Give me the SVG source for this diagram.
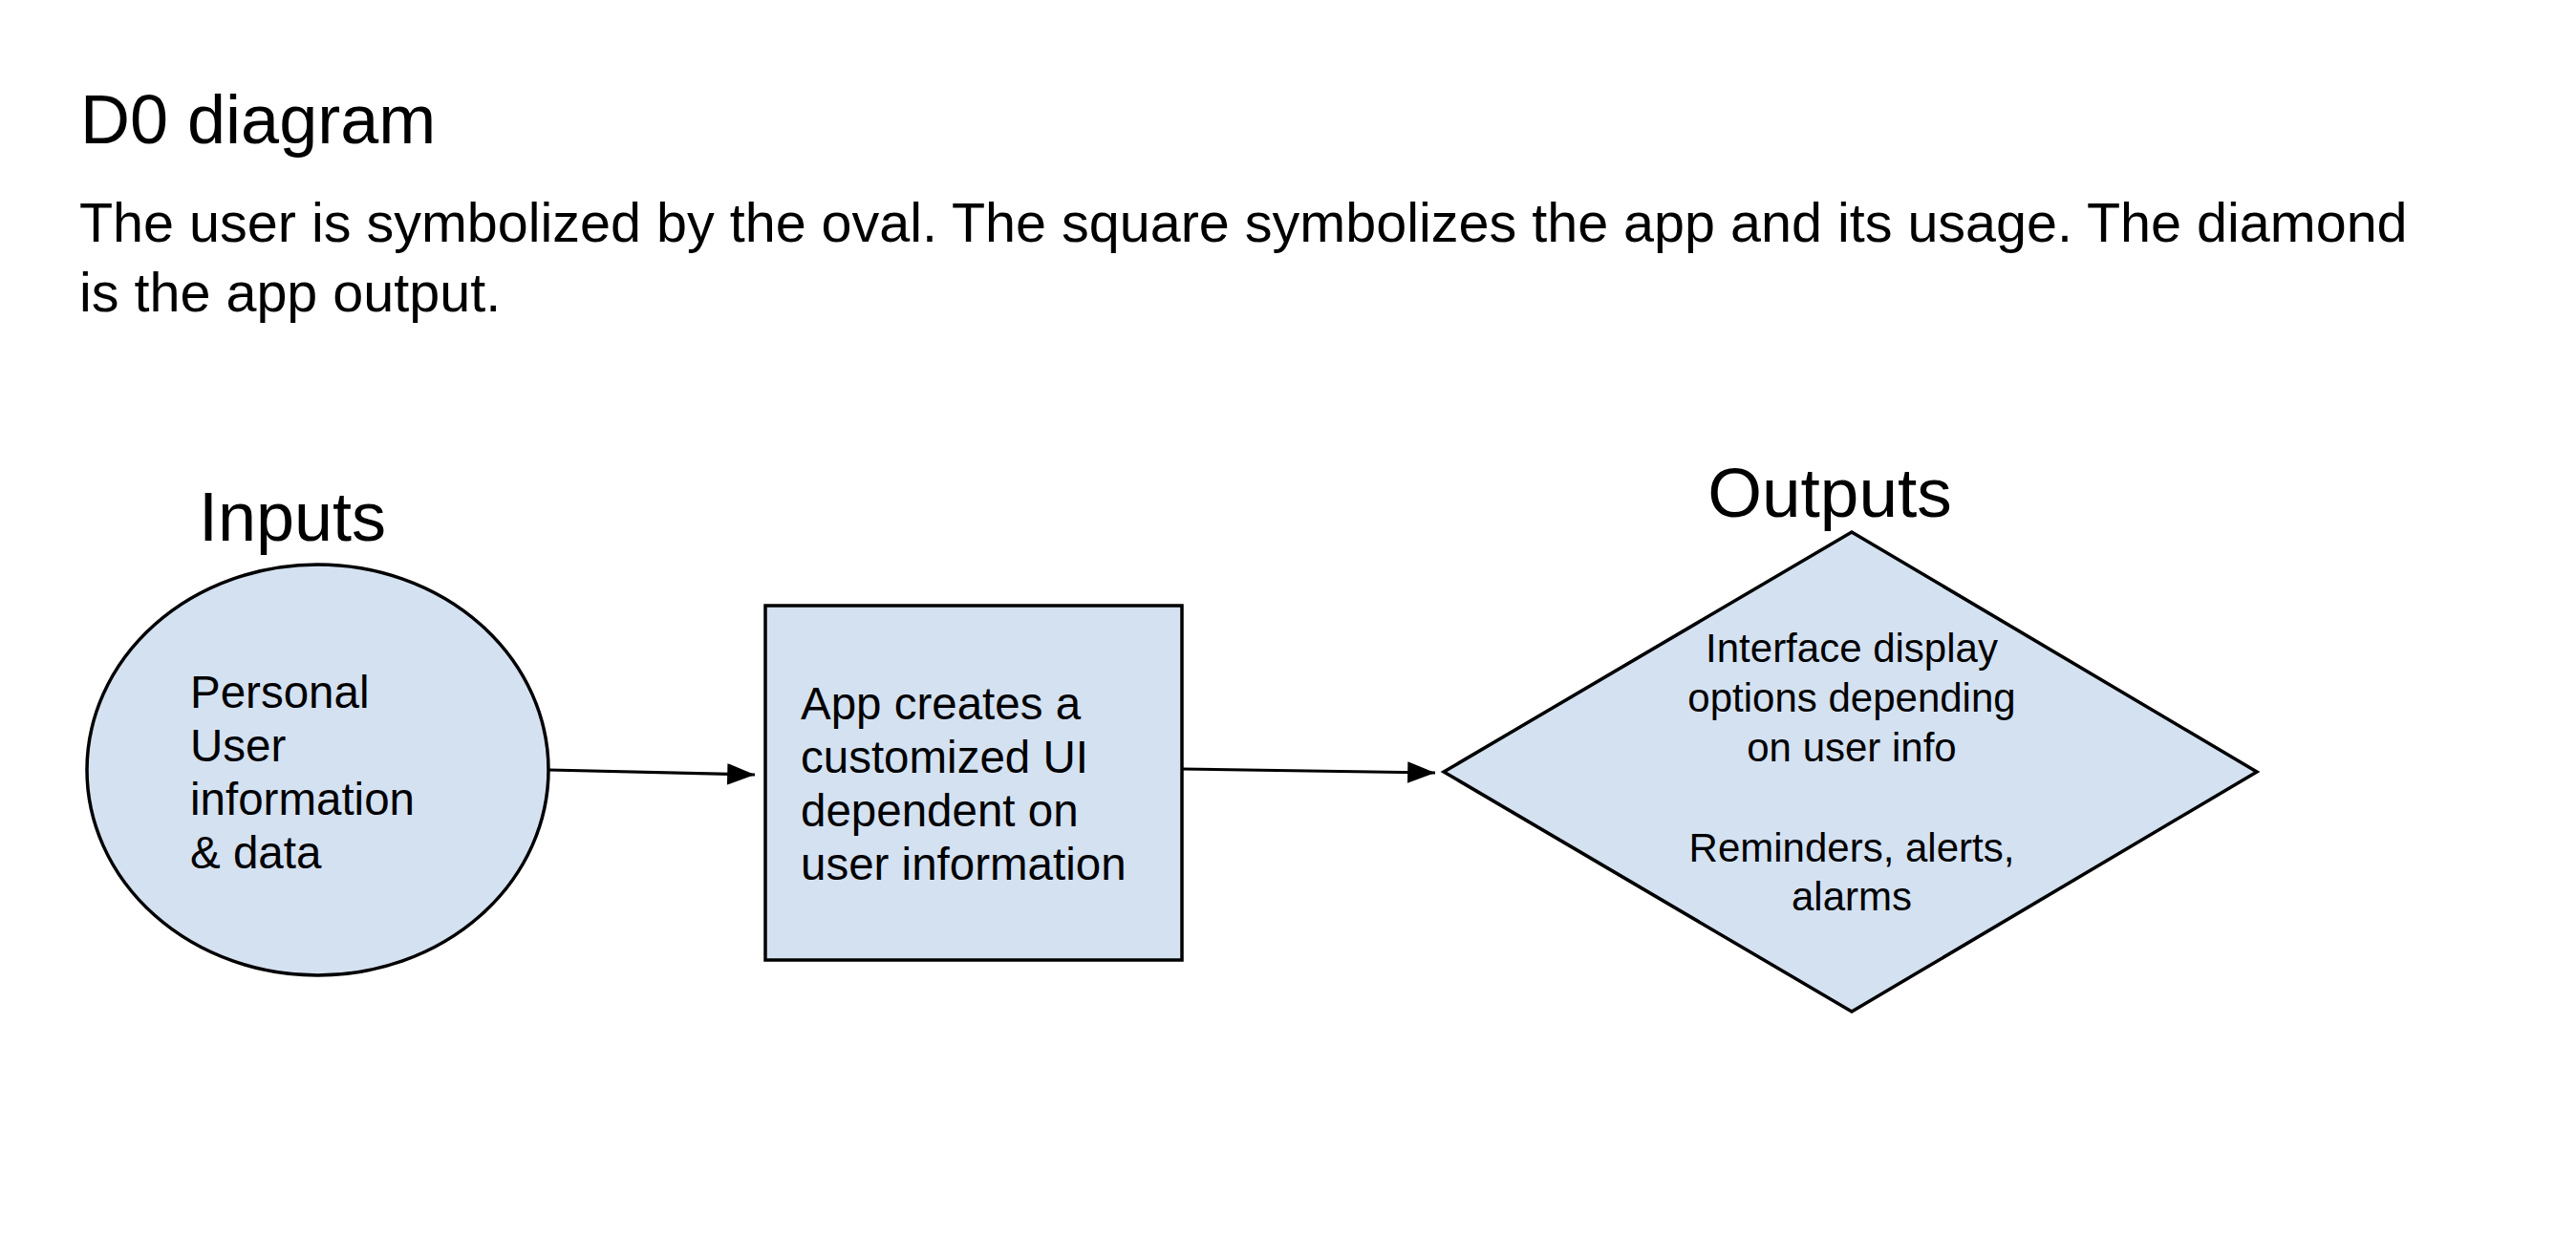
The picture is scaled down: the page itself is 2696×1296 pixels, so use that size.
<svg xmlns="http://www.w3.org/2000/svg" width="2696" height="1296" viewBox="0 0 2696 1296">
<style>
text{font-family:"Liberation Sans",Arial,sans-serif;fill:#000}
.shape{fill:#d4e1f1;stroke:#000;stroke-width:3.5}
.conn{stroke:#000;stroke-width:3.2;fill:none}
.title{font-size:72px}
.para{font-size:57.5px}
.head{font-size:72px}
.head2{font-size:73px}
.lbl{font-size:47.5px}
.dlbl{font-size:42px}
</style>
<defs>
<marker id="arr" markerWidth="10" markerHeight="8" refX="9" refY="3.5" orient="auto" markerUnits="strokeWidth">
<path d="M0,0 L9,3.5 L0,7 Z" fill="#000"/>
</marker>
</defs>
<rect width="2696" height="1296" fill="#fff"/>
<g id="header">
<text class="title" x="84" y="150">D0 diagram</text>
<text class="para" x="83" y="253">The user is symbolized by the oval. The square symbolizes the app and its usage. The diamond</text>
<text class="para" x="83" y="326">is the app output.</text>
</g>
<g id="inputs-label"><text class="head" x="306" y="566" text-anchor="middle">Inputs</text></g>
<g id="outputs-label"><text class="head2" x="1915" y="541" text-anchor="middle">Outputs</text></g>
<g id="user">
<ellipse class="shape" cx="332.5" cy="806" rx="241.5" ry="215"/>
<text class="lbl" x="199"><tspan x="199" y="741">Personal</tspan><tspan x="199" y="797">User</tspan><tspan x="199" y="853">information</tspan><tspan x="199" y="909">&amp; data</tspan></text>
</g>
<g id="app">
<rect class="shape" x="801" y="634" width="436" height="371"/>
<text class="lbl" x="838"><tspan x="838" y="753">App creates a</tspan><tspan x="838" y="809">customized UI</tspan><tspan x="838" y="865">dependent on</tspan><tspan x="838" y="921">user information</tspan></text>
</g>
<g id="output">
<polygon class="shape" points="1511,808 1938,557 2362,808 1938,1059"/>
<text class="dlbl" text-anchor="middle"><tspan x="1938" y="693">Interface display</tspan><tspan x="1938" y="745">options depending</tspan><tspan x="1938" y="797">on user info</tspan><tspan x="1938" y="902">Reminders, alerts,</tspan><tspan x="1938" y="953">alarms</tspan></text>
</g>
<g id="connectors">
<line class="conn" x1="575" y1="806" x2="790" y2="811" marker-end="url(#arr)"/>
<line class="conn" x1="1238" y1="805" x2="1502" y2="809" marker-end="url(#arr)"/>
</g>
</svg>
